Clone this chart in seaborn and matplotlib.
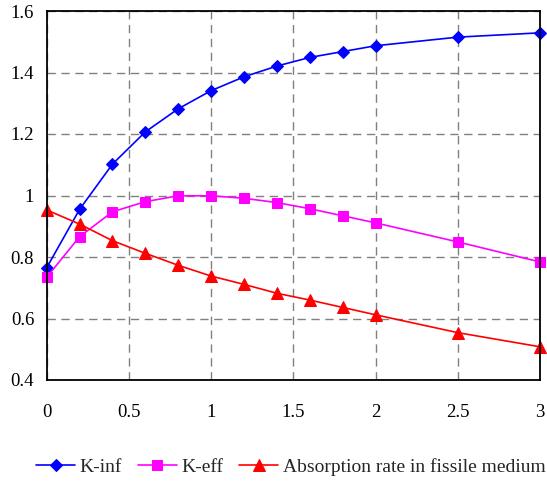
import matplotlib
matplotlib.use('Agg')
import matplotlib.pyplot as plt
import seaborn as sns
import pandas as pd

# values
x_vals = [0, 0.2, 0.4, 0.6, 0.8, 1.0, 1.2, 1.4, 1.6, 1.8, 2.0, 2.5, 3.0]
k_inf = [0.765, 0.955, 1.102, 1.207, 1.282, 1.341, 1.386, 1.421, 1.449, 1.468, 1.487, 1.515, 1.529]
k_eff = [0.734, 0.866, 0.947, 0.980, 0.999, 0.999, 0.991, 0.977, 0.957, 0.934, 0.911, 0.849, 0.784]
absorption = [0.953, 0.907, 0.853, 0.812, 0.773, 0.738, 0.711, 0.682, 0.660, 0.636, 0.612, 0.554, 0.508]

series_names = ['K-inf', 'K-eff', 'Absorption rate in fissile medium']
x_ticks = [0, 0.5, 1, 1.5, 2, 2.5, 3]
y_ticks = [0.4, 0.6, 0.8, 1.0, 1.2, 1.4, 1.6]
y_tick_labels = ['0.4', '0.6', '0.8', '1', '1.2', '1.4', '1.6']

sns.set_style("white")
plt.rcParams['font.family'] = ['Liberation Serif', 'DejaVu Serif']

fig = plt.figure(figsize=(5.47, 4.82), dpi=100)
ax = fig.add_axes([46.7 / 547, 1 - 380 / 482, (540 - 46.7) / 547, (380 - 11) / 482])

styles = [
    ('#0000ff', 'D', 6),
    ('#ff00ff', 's', 7),
    ('#ff0000', '^', 8),
]
for name, vals, (col, mk, ms) in zip(series_names, [k_inf, k_eff, absorption], styles):
    df = pd.DataFrame({'x': x_vals, 'y': vals})
    sns.lineplot(x='x', y='y', data=df, ax=ax, color=col, marker=mk, markersize=ms,
                 markeredgecolor=col, linewidth=1.2, label=name, clip_on=False)

ax.set_xlim(0, 3)
ax.set_ylim(0.4, 1.6)
ax.set_xticks(x_ticks)
ax.set_xticklabels([str(t) for t in x_ticks])
ax.set_yticks(y_ticks)
ax.set_yticklabels(y_tick_labels)
ax.set_xlabel('')
ax.set_ylabel('')
ax.grid(True, color='#808080', linestyle=(0, (6, 4)), linewidth=1)
for s in ax.spines.values():
    s.set_color('black')
    s.set_linewidth(1.3)
ax.tick_params(axis='both', direction='out', length=5, width=1, color='black',
               labelsize=13.5, colors='black')
ax.tick_params(axis='x', pad=12)
ax.tick_params(axis='y', pad=4)

ax.legend(loc='center', bbox_to_anchor=(0.495, (-467 + 380) / 369), ncol=3, frameon=False,
          fontsize=14, handlelength=2.0, columnspacing=0.8, handletextpad=0.25,
          borderpad=0, borderaxespad=0)

plt.savefig('out.png', dpi=100)
plt.close()
